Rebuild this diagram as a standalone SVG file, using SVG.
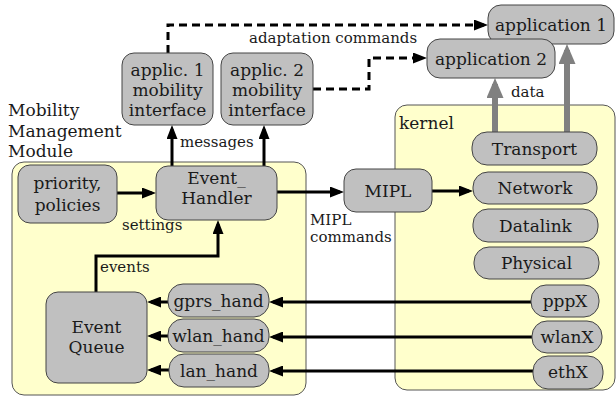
<svg xmlns="http://www.w3.org/2000/svg" width="616" height="397" viewBox="0 0 616 397" font-family="'DejaVu Serif', 'Liberation Serif', serif">
<style>
text{fill:#1a1a1a}
.t{font-size:17px;text-anchor:middle}
.l{font-size:15px}
.big{font-size:17px}
.node{fill:#c0c0c0;stroke:#444;stroke-width:1}
.box{fill:#ffffcc;stroke:#555;stroke-width:1}
.c{fill:none;stroke:#000;stroke-width:3}
.d{fill:none;stroke:#000;stroke-width:3;stroke-dasharray:8 5}
.g{fill:none;stroke:#808080;stroke-width:6}
</style>
<defs>
<marker id="ah" markerWidth="14" markerHeight="11" refX="10" refY="5.5" orient="auto" markerUnits="userSpaceOnUse"><path d="M0,0 L14,5.5 L0,11 z" fill="#000"/></marker>
<marker id="gh" markerWidth="20" markerHeight="17" refX="14" refY="8.5" orient="auto" markerUnits="userSpaceOnUse"><path d="M0,0 L20,8.5 L0,17 z" fill="#808080"/></marker>
</defs>

<g id="mobility-module">
<rect class="box" x="12" y="162" width="294" height="233" rx="12"/>
<text class="big" x="8" y="116">Mobility</text>
<text class="big" x="8" y="137">Management</text>
<text class="big" x="8" y="157">Module</text>
</g>
<g id="kernel">
<rect class="box" x="395" y="105" width="220" height="285" rx="12"/>
<text class="big" x="399" y="129">kernel</text>
</g>

<g id="connectors">
<path class="d" d="M168,53 V25 H484" marker-end="url(#ah)"/>
<path class="d" d="M313,89 H369 V58 H423" marker-end="url(#ah)"/>
<path class="c" d="M172,166 V129" marker-end="url(#ah)"/>
<path class="c" d="M264,166 V129" marker-end="url(#ah)"/>
<path class="c" d="M117,193 H152" marker-end="url(#ah)"/>
<path class="c" d="M277,192 H340" marker-end="url(#ah)"/>
<path class="c" d="M432,191 H469" marker-end="url(#ah)"/>
<path class="c" d="M96,292 V256 H218 V224" marker-end="url(#ah)"/>
<path class="c" d="M531,302 H273" marker-end="url(#ah)"/>
<path class="c" d="M532,337 H273" marker-end="url(#ah)"/>
<path class="c" d="M533,371 H273" marker-end="url(#ah)"/>
<path class="c" d="M168,302 H151" marker-end="url(#ah)"/>
<path class="c" d="M168,336 H151" marker-end="url(#ah)"/>
<path class="c" d="M169,370 H151" marker-end="url(#ah)"/>
<path class="g" d="M495,132 V84" marker-end="url(#gh)"/>
<path class="g" d="M567,132 V50" marker-end="url(#gh)"/>
<text class="l" x="249" y="43">adaptation commands</text>
<text class="l" x="180" y="147">messages</text>
<text class="l" x="122" y="230">settings</text>
<text class="l" x="100" y="272">events</text>
<text class="l" x="511" y="97">data</text>
<text class="l" x="310" y="225">MIPL</text>
<text class="l" x="310" y="242">commands</text>
</g>

<g id="applic1-mobility-interface">
<rect class="node" x="122" y="53" width="91" height="72" rx="12"/>
<text class="t" x="167.5" y="76">applic. 1</text>
<text class="t" x="167.5" y="96">mobility</text>
<text class="t" x="167.5" y="116">interface</text>
</g>
<g id="applic2-mobility-interface">
<rect class="node" x="221" y="53" width="92" height="72" rx="12"/>
<text class="t" x="267" y="76">applic. 2</text>
<text class="t" x="267" y="96">mobility</text>
<text class="t" x="267" y="116">interface</text>
</g>
<g id="application1">
<rect class="node" x="488" y="5" width="126" height="39" rx="13"/>
<text class="t" x="551" y="31">application 1</text>
</g>
<g id="application2">
<rect class="node" x="427" y="39" width="128" height="39" rx="13"/>
<text class="t" x="491" y="65">application 2</text>
</g>
<g id="transport">
<rect class="node" x="472" y="132" width="125" height="33" rx="15"/>
<text class="t" x="534.5" y="155">Transport</text>
</g>
<g id="network">
<rect class="node" x="473" y="172" width="124" height="32" rx="15"/>
<text class="t" x="535" y="194">Network</text>
</g>
<g id="datalink">
<rect class="node" x="473" y="209" width="125" height="33" rx="15"/>
<text class="t" x="535.5" y="232">Datalink</text>
</g>
<g id="physical">
<rect class="node" x="474" y="247" width="125" height="32" rx="15"/>
<text class="t" x="536.5" y="269">Physical</text>
</g>
<g id="pppX">
<rect class="node" x="531" y="285" width="68" height="32" rx="15"/>
<text class="t" x="565" y="307">pppX</text>
</g>
<g id="wlanX">
<rect class="node" x="532" y="321" width="70" height="32" rx="15"/>
<text class="t" x="567" y="343">wlanX</text>
</g>
<g id="ethX">
<rect class="node" x="533" y="356" width="70" height="33" rx="15"/>
<text class="t" x="568" y="378">ethX</text>
</g>
<g id="MIPL">
<rect class="node" x="344" y="169" width="88" height="43" rx="12"/>
<text class="t" x="388" y="197">MIPL</text>
</g>
<g id="priority-policies">
<rect class="node" x="18" y="165" width="99" height="58" rx="12"/>
<text class="t" x="67.5" y="189">priority,</text>
<text class="t" x="67.5" y="211">policies</text>
</g>
<g id="event-handler">
<rect class="node" x="156" y="166" width="121" height="54" rx="12"/>
<text class="t" x="216.5" y="184">Event_</text>
<text class="t" x="216.5" y="204">Handler</text>
</g>
<g id="event-queue">
<rect class="node" x="46" y="292" width="101" height="91" rx="12"/>
<text class="t" x="96.5" y="333">Event</text>
<text class="t" x="96.5" y="353">Queue</text>
</g>
<g id="gprs_hand">
<rect class="node" x="168" y="284" width="101" height="33" rx="15"/>
<text class="t" x="218.5" y="307">gprs_hand</text>
</g>
<g id="wlan_hand">
<rect class="node" x="168" y="319" width="101" height="33" rx="15"/>
<text class="t" x="218.5" y="342">wlan_hand</text>
</g>
<g id="lan_hand">
<rect class="node" x="169" y="354" width="100" height="33" rx="15"/>
<text class="t" x="219" y="377">lan_hand</text>
</g>
</svg>
